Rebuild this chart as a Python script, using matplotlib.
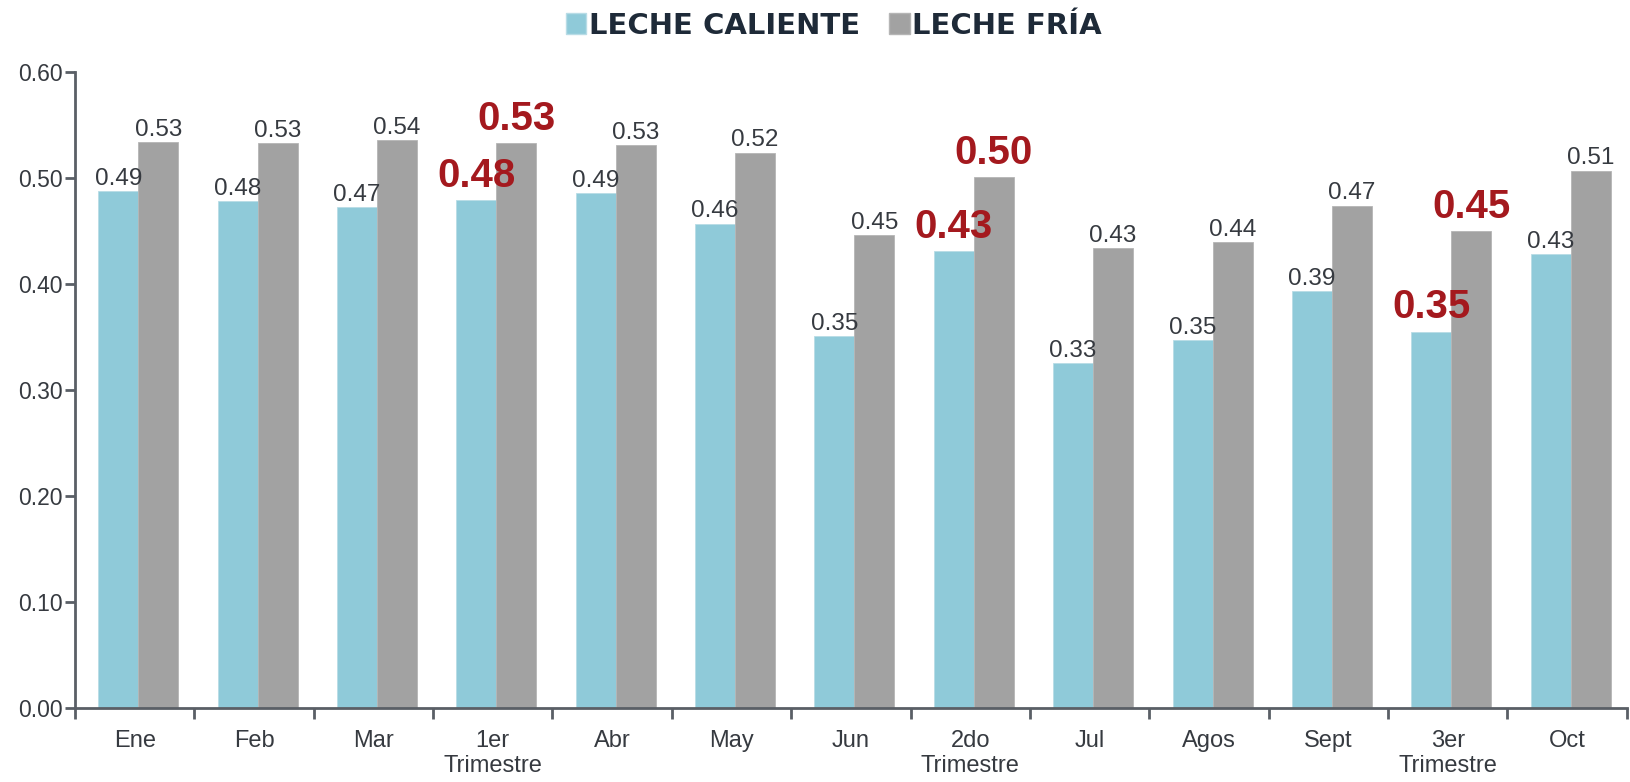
import numpy as np
import matplotlib
matplotlib.use("Agg")
import matplotlib.pyplot as plt
from matplotlib.patches import Patch

# Data
categories = ["Ene", "Feb", "Mar", "1er\nTrimestre", "Abr", "May", "Jun",
              "2do\nTrimestre", "Jul", "Agos", "Sept", "3er\nTrimestre", "Oct"]
leche_caliente = [0.488, 0.478, 0.473, 0.479, 0.486, 0.457, 0.351,
                  0.431, 0.325, 0.347, 0.393, 0.355, 0.428]
leche_fria = [0.534, 0.533, 0.536, 0.533, 0.531, 0.524, 0.446,
              0.501, 0.434, 0.440, 0.474, 0.450, 0.507]
highlight = [False, False, False, True, False, False, False,
             True, False, False, False, True, False]
yticks = [0.0, 0.1, 0.2, 0.3, 0.4, 0.5, 0.6]

BLUE = "#8fcad9"
GRAY = "#a2a2a2"
RED = "#a4191e"
AXIS = "#5a5f66"
TEXT = "#363a40"

plt.rcParams['font.family'] = ['Liberation Sans', 'DejaVu Sans']

fig = plt.figure(figsize=(16.3, 7.82), dpi=100)
ax = fig.add_axes([0.046, 0.0946, 0.952, 0.8134])

x = np.arange(len(categories))
w = 0.335
off = 0.03
bars_c = ax.bar(x - w / 2 + off, leche_caliente, w, color=BLUE, edgecolor="#b8dce6", linewidth=0.6)
bars_f = ax.bar(x + w / 2 + off, leche_fria, w, color=GRAY, edgecolor="#b5b5b5", linewidth=0.6)

# Value labels
for bars, vals in ((bars_c, leche_caliente), (bars_f, leche_fria)):
    for b, v, hl in zip(bars, vals, highlight):
        cx = b.get_x() + b.get_width() / 2
        if hl:
            ax.text(cx, v + 0.005, f"{v:.2f}", ha="center", va="bottom",
                    fontsize=29, fontweight="bold", color=RED)
        else:
            ax.text(cx, v + 0.001, f"{v:.2f}", ha="center", va="bottom",
                    fontsize=17.5, color=TEXT)

ax.set_xlim(-0.5, len(categories) - 0.5)
ax.set_ylim(0, 0.6)
ax.set_yticks(yticks)
ax.set_yticklabels([f"{t:.2f}" for t in yticks])
ax.set_xticks(x)
ax.set_xticklabels(categories, fontsize=17, color=TEXT, linespacing=1.15)
ax.tick_params(axis="x", length=0, pad=16)
ax.set_xticks(np.arange(-0.5, len(categories), 1.0), minor=True)
ax.tick_params(axis="x", which="minor", length=8, width=2, color=AXIS)
ax.tick_params(axis="y", labelsize=16.5, labelcolor=TEXT, length=7, width=2, color=AXIS, pad=2)

for s in ("top", "right"):
    ax.spines[s].set_visible(False)
for s in ("left", "bottom"):
    ax.spines[s].set_color(AXIS)
    ax.spines[s].set_linewidth(2)

handles = [Patch(facecolor=BLUE, edgecolor="#b8dce6"), Patch(facecolor=GRAY, edgecolor="#b5b5b5")]
fig.legend(handles, ["LECHE CALIENTE", "LECHE FRÍA"], loc="center left", bbox_to_anchor=(0.338, 0.967),
           ncol=2, frameon=False, handlelength=0.7, handleheight=0.7, handletextpad=0.1,
           columnspacing=1.0, borderpad=0.0,
           prop={"family": ["DejaVu Sans"], "weight": "bold", "size": 21})
for t in fig.legends[0].get_texts():
    t.set_color("#1e2a38")

fig.savefig("out.png", dpi=100)
